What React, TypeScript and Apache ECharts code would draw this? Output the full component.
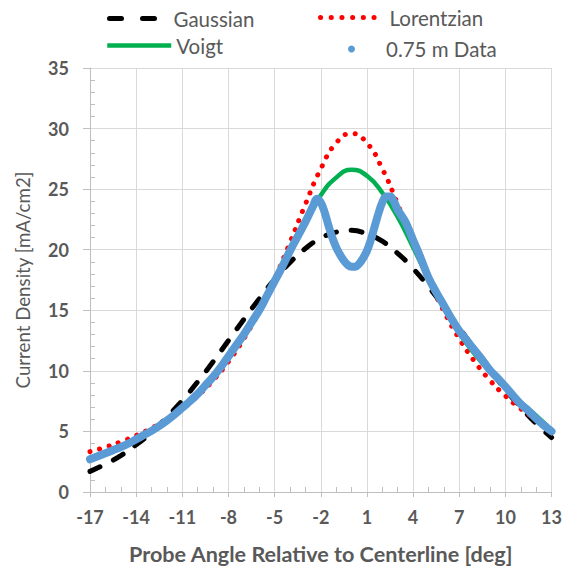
import React, { useEffect, useRef } from "react";
import * as echarts from "echarts";

const curveAngles = [-17, -16, -15, -14, -13, -12, -11, -10, -9, -8, -7, -6, -5, -4, -3, -2, -1, 0, 1, 2, 3, 4, 5, 6, 7, 8, 9, 10, 11, 12, 13];
const gaussianValues = [1.7, 2.3, 3.0, 3.9, 4.9, 6.2, 7.55, 9.1, 10.75, 12.5, 14.25, 15.95, 17.55, 18.95, 20.1, 20.95, 21.45, 21.6, 21.3, 20.7, 19.7, 18.45, 16.95, 15.3, 13.55, 11.8, 10.1, 8.45, 7.0, 5.65, 4.5];
const lorentzianValues = [3.33, 3.7, 4.14, 4.66, 5.27, 6.0, 6.87, 7.93, 9.21, 10.77, 12.66, 14.92, 17.59, 20.6, 23.76, 26.68, 28.81, 29.6, 28.81, 26.68, 23.76, 20.6, 17.59, 14.92, 12.66, 10.77, 9.21, 7.93, 6.87, 6.0, 5.27];
const voigtValues = [2.7, 3.2, 3.75, 4.35, 5.05, 5.85, 6.9, 8.05, 9.45, 11.1, 12.9, 14.9, 17.2, 19.7, 22.3, 24.5, 25.95, 26.6, 26.1, 24.7, 22.7, 20.2, 17.6, 15.2, 13.1, 11.4, 9.9, 8.6, 7.4, 6.3, 5.1];

const dataAngles = [-17, -16.5, -16, -15.5, -15, -14.5, -14, -13.5, -13, -12.5, -12, -11.5, -11, -10.5, -10, -9.5, -9, -8.5, -8, -7.5, -7, -6.5, -6, -5.5, -5, -4.5, -4, -3.5, -3, -2.5, -2.25, -2, -1.75, -1.5, -1.25, -1, -0.75, -0.5, -0.25, 0, 0.25, 0.5, 0.75, 1, 1.25, 1.5, 1.75, 2, 2.25, 2.5, 2.75, 3, 3.5, 4, 4.5, 5, 5.5, 6, 6.5, 7, 7.5, 8, 8.5, 9, 9.5, 10, 10.5, 11, 11.5, 12, 12.5, 13];
const dataValues = [2.7, 2.95, 3.2, 3.45, 3.7, 4.0, 4.35, 4.7, 5.05, 5.45, 5.9, 6.4, 6.95, 7.5, 8.1, 8.8, 9.5, 10.3, 11.2, 12.1, 13.0, 14.0, 15.0, 16.2, 17.4, 18.6, 19.9, 21.1, 22.3, 23.6, 24.2, 23.9, 23.1, 22.0, 21.0, 20.2, 19.6, 19.1, 18.75, 18.6, 18.6, 18.85, 19.3, 19.9, 20.8, 21.9, 23.0, 23.9, 24.4, 24.4, 24.0, 23.3, 22.3, 20.8, 19.3, 17.7, 16.5, 15.4, 14.3, 13.3, 12.5, 11.7, 10.9, 10.05, 9.4, 8.7, 7.95, 7.25, 6.7, 6.05, 5.5, 5.0];

const seriesNames = ["Gaussian", "Lorentzian", "Voigt", "0.75 m Data"];
const xAxisTitle = "Probe Angle Relative to Centerline [deg]";
const yAxisTitle = "Current Density [mA/cm2]";

const FONT = "Lato, 'Open Sans', sans-serif";
const GREY = "#595959";

function zip(xs: number[], ys: number[]) {
  return xs.map((x, i) => [x, ys[i]]);
}

export default function App() {
  const ref = useRef<HTMLDivElement>(null);
  useEffect(() => {
    if (!ref.current) return;
    const chart = echarts.init(ref.current, undefined, { renderer: "svg" });
    const legendText = { fontFamily: FONT, fontSize: 20.5, color: GREY };
    const hideSymbol = { opacity: 0 };
    chart.setOption({
      animation: false,
      backgroundColor: "#ffffff",
      grid: { left: 90, right: 13, top: 68, bottom: 79 },
      legend: [
        {
          data: [seriesNames[0]], left: 102, top: 3, itemWidth: 50, itemHeight: 14, itemStyle: hideSymbol,
          lineStyle: { width: 5, type: [12, 21], cap: "round", color: "#000000" },
          textStyle: { ...legendText, padding: [0, 0, 0, 9] },
        },
        {
          data: [seriesNames[1]], left: 313, top: 2, itemWidth: 64, itemHeight: 14, itemStyle: hideSymbol,
          lineStyle: { width: 5, type: [0.1, 10.6], cap: "round", color: "#ff0000" },
          textStyle: { ...legendText, padding: [0, 0, 0, 0] },
        },
        {
          data: [seriesNames[2]], left: 100, top: 30, itemWidth: 64, itemHeight: 14, itemStyle: hideSymbol,
          lineStyle: { width: 4.5, type: "solid", color: "#00B050" },
          textStyle: { ...legendText, padding: [0, 0, 0, 0] },
        },
        {
          data: [{ name: seriesNames[3], icon: "circle", itemStyle: { color: "#5B9BD5" } }],
          left: 343, top: 33.5, itemWidth: 7, itemHeight: 7, textStyle: { ...legendText, padding: [0, 0, 0, 26] },
        },
      ],
      xAxis: {
        type: "value",
        min: -17,
        max: 13,
        interval: 3,
        name: xAxisTitle,
        nameLocation: "middle",
        nameGap: 51,
        nameTextStyle: { fontFamily: FONT, fontSize: 21.6, fontWeight: "bold", color: GREY },
        axisLine: { show: true, onZero: false, lineStyle: { color: "#bfbfbf", width: 1 } },
        axisTick: { show: true, length: 5, lineStyle: { color: "#bfbfbf" } },
        minorTick: { show: true, splitNumber: 3, length: -5, lineStyle: { color: "#bfbfbf" } },
        axisLabel: { fontFamily: FONT, fontSize: 18, fontWeight: "bold", color: GREY, margin: 16 },
        splitLine: { show: true, lineStyle: { color: "#d9d9d9", width: 1 } },
      },
      yAxis: {
        type: "value",
        min: 0,
        max: 35,
        interval: 5,
        name: yAxisTitle,
        nameLocation: "middle",
        nameGap: 58,
        nameTextStyle: { fontFamily: FONT, fontSize: 18.7, color: GREY },
        axisLine: { show: true, onZero: false, lineStyle: { color: "#bfbfbf", width: 1 } },
        axisTick: { show: true, length: 7, lineStyle: { color: "#bfbfbf" } },
        minorTick: { show: true, splitNumber: 5, length: -5, lineStyle: { color: "#bfbfbf" } },
        axisLabel: { fontFamily: FONT, fontSize: 18, fontWeight: "bold", color: GREY, margin: 21 },
        splitLine: { show: true, lineStyle: { color: "#d9d9d9", width: 1 } },
      },
      series: [
        {
          name: seriesNames[0],
          type: "line",
          data: zip(curveAngles, gaussianValues),
          smooth: 0.5,
          symbol: "none",
          itemStyle: { color: "#000000" },
          lineStyle: { color: "#000000", width: 5, type: [11, 15], cap: "round" },
          z: 2,
        },
        {
          name: seriesNames[1],
          type: "line",
          data: zip(curveAngles, lorentzianValues),
          smooth: 0.5,
          symbol: "none",
          itemStyle: { color: "#ff0000" },
          lineStyle: { color: "#ff0000", width: 5, type: [0.1, 9.8], cap: "round" },
          z: 3,
        },
        {
          name: seriesNames[2],
          type: "line",
          data: zip(curveAngles, voigtValues),
          smooth: 0.5,
          symbol: "none",
          itemStyle: { color: "#00B050" },
          lineStyle: { color: "#00B050", width: 4.5 },
          z: 4,
        },
        {
          name: seriesNames[3],
          type: "line",
          data: zip(dataAngles, dataValues),
          smooth: 0.4,
          symbol: "none",
          itemStyle: { color: "#5B9BD5" },
          lineStyle: { color: "#5B9BD5", width: 8, cap: "round", join: "round" },
          z: 5,
        },
      ],
    });
    return () => chart.dispose();
  }, []);
  return <div ref={ref} style={{ position: "absolute", left: 0, top: 0, width: 565, height: 571 }} />;
}
